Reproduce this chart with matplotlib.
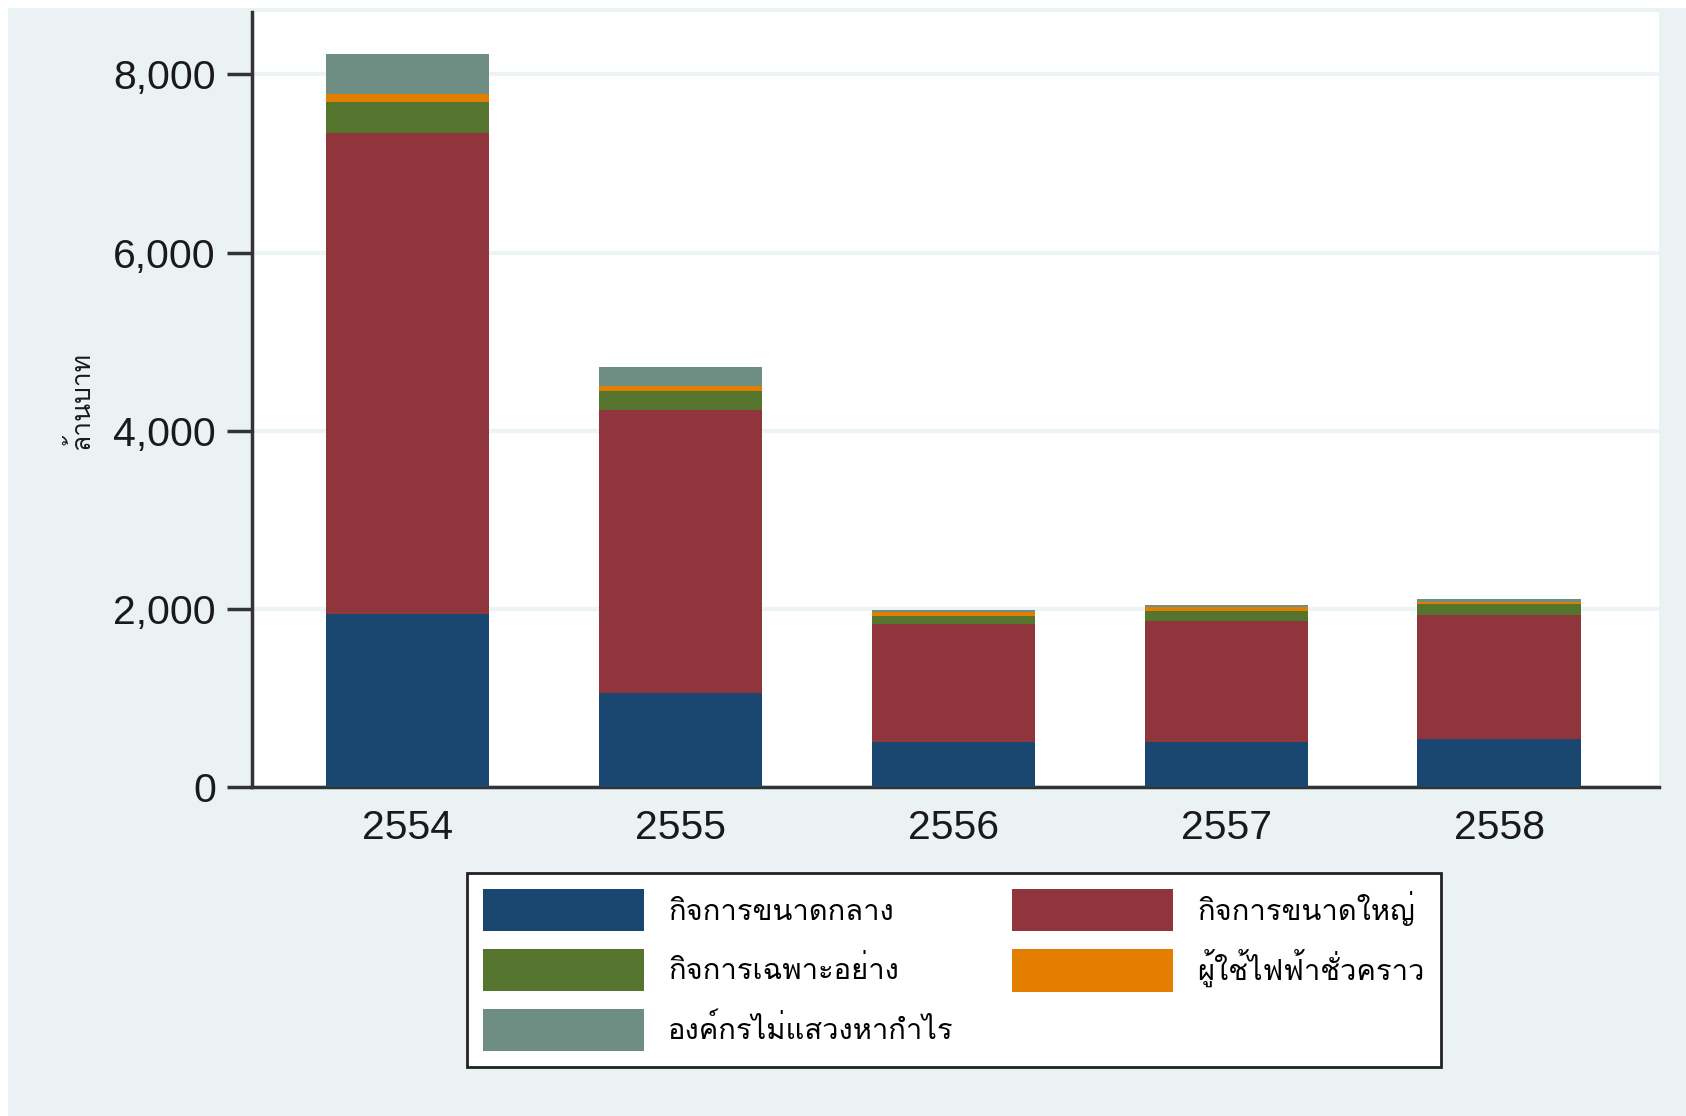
import matplotlib
matplotlib.use("Agg")
import matplotlib.pyplot as plt
import numpy as np
from matplotlib import font_manager
from matplotlib.ft2font import FT2Font
from matplotlib.patches import Rectangle

# data (million baht)
years = ['2554', '2555', '2556', '2557', '2558']
medium = [1940, 1050, 505, 505, 535]          # กิจการขนาดกลาง
large = [5405, 3180, 1328, 1358, 1392]        # กิจการขนาดใหญ่
specific = [347, 216, 86, 112, 123]           # กิจการเฉพาะอย่าง
temporary = [90, 57, 45, 49, 30]              # ผู้ใช้ไฟฟ้าชั่วคราว
nonprofit = [442, 213, 23, 19, 26]            # องค์กรไม่แสวงหากำไร

labels = ['กิจการขนาดกลาง', 'กิจการขนาดใหญ่', 'กิจการเฉพาะอย่าง',
          'ผู้ใช้ไฟฟ้าชั่วคราว', 'องค์กรไม่แสวงหากำไร']
colors = ['#1A476F', '#90353B', '#55752F', '#E37E00', '#6E8E84']
yticks = [0, 2000, 4000, 6000, 8000]


# look for an installed font that has Thai glyphs
def find_thai_font():
    for f in font_manager.fontManager.ttflist:
        try:
            cmap = FT2Font(f.fname).get_charmap()
        except Exception:
            continue
        if 0x0E01 in cmap and 0x0E32 in cmap:
            return f.name
    return None


thai = find_thai_font()
fams = ([thai] if thai else []) + ['Liberation Sans', 'DejaVu Sans']
plt.rcParams['font.family'] = fams

fig = plt.figure(figsize=(16.86, 11.16), dpi=100, facecolor='white')
W, H = 1686, 1116
fig.patches.append(Rectangle((8 / W, 0), 1, 1 - 8 / H, transform=fig.transFigure,
                             facecolor='#EAF2F3', edgecolor='none', zorder=-5))

ax = fig.add_axes([252 / W, 1 - 787 / H, (1659 - 252) / W, (787 - 12) / H])
ax.set_zorder(1)
ax.set_facecolor('white')

x = np.arange(len(years))
series = [medium, large, specific, temporary, nonprofit]
bottom = np.zeros(len(years))
bars = []
for vals, c, lab in zip(series, colors, labels):
    b = ax.bar(x, vals, 0.6, bottom=bottom, color=c, label=lab, zorder=3,
               linewidth=0)
    bars.append(b)
    bottom += np.array(vals)

ax.set_xlim(-0.57, 4.585)
ax.set_ylim(0, 8700)
ax.set_yticks(yticks)
ax.set_yticklabels([f'{v:,}' for v in yticks], family=['Liberation Sans'],
                   fontsize=29.5, color='#1A1A1A')
ax.set_xticks(x)
ax.set_xticklabels(years, family=['Liberation Sans'], fontsize=29.5, color='#1A1A1A')
ax.tick_params(axis='y', length=18, width=2.5, color='#333333', pad=8)
ax.tick_params(axis='x', length=0, pad=16)
ax.grid(axis='y', color='#EEF4F5', linewidth=3, zorder=0)

for s in ['top', 'right']:
    ax.spines[s].set_visible(False)
for s in ['left', 'bottom']:
    ax.spines[s].set_color('#333333')
    ax.spines[s].set_linewidth(2.5)

ax.set_ylabel('ล้านบาท', fontsize=19, labelpad=14, color='#1A1A1A')

# column-major order so the legend reads row by row like the original
order = [0, 2, 4, 1, 3]
leg = fig.legend([bars[i] for i in order], [labels[i] for i in order],
                 loc='center', bbox_to_anchor=(954 / W, 1 - 970 / H),
                 ncol=2, fontsize=21, frameon=True, fancybox=False,
                 handlelength=5.5, handleheight=1.85, handletextpad=0.85,
                 columnspacing=2.0, labelspacing=0.6, borderpad=0.55,
                 edgecolor='#222222', framealpha=1, facecolor='white')
leg.get_frame().set_linewidth(2)
leg.set_zorder(2)

fig.savefig('out.png', dpi=100, facecolor=fig.get_facecolor())
